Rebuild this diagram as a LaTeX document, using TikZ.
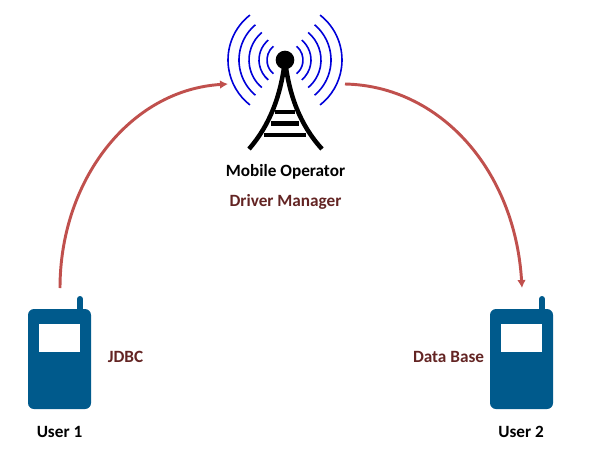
\documentclass[tikz,border=0pt]{standalone}
\usepackage{fontspec}
\setmainfont{Carlito}
\usetikzlibrary{arrows.meta}
\definecolor{PhoneBlue}{HTML}{005A8C}
\definecolor{ArrowRed}{HTML}{C0504D}
\definecolor{LabelRed}{HTML}{632423}
\tikzset{
    PH/.style ={rectangle,rounded corners=4.5pt,minimum width=47.25pt,minimum height=75pt,inner sep=0pt,fill=PhoneBlue},
    SC/.style ={rectangle,minimum width=30.75pt,minimum height=21pt,inner sep=0pt,fill=white},
    AN/.style ={PhoneBlue,line width=4.5pt,line cap=round},
    WA/.style ={blue!85!black,line width=1.2pt},
    TO/.style ={black,line width=3.4pt},
    AR/.style ={ArrowRed,line width=2.2pt,-{Latex[length=6pt,width=6.5pt]}},
    TB/.style ={font=\bfseries\fontsize{12.9pt}{15pt}\selectfont,inner sep=0pt},
    TR/.style ={TB,text=LabelRed}}

\begin{document}
\begin{tikzpicture}[x=0.75pt,y=0.75pt]
        \useasboundingbox (0,0) rectangle (592,-461);
        % tower
        \node[circle,fill=black,minimum size=14pt,inner sep=0pt] (top) at(285,-60){};
        \coordinate (foot1) at(249,-149);
        \coordinate (foot2) at(322,-149);
        \draw[TO] (top.center) .. controls (281,-95) and (270,-125) .. (foot1);
        \draw[TO] (top.center) .. controls (289,-95) and (300,-125) .. (foot2);
        \draw[TO] (275,-112) -- (295,-112);
        \draw[TO] (271,-123.5) -- (299,-123.5);
        \draw[TO] (264,-135) -- (306,-135);
        \foreach \r/\a in {18/50,26/50,36/50,46/50,57/52}{
            \draw[WA] (top.center) ++(180-\a:\r) arc (180-\a:180+\a:\r);
            \draw[WA] (top.center) ++(\a:\r) arc (\a:-\a:\r);
        }
        % phones
        \draw[AN] (80,-299) -- (80,-312);
        \draw[AN] (542,-299) -- (542,-312);
        \node[PH] (P1) at(59.5,-359){};
        \node[PH] (P2) at(521.5,-359){};
        \node[SC] (S1) at(59.5,-338){};
        \node[SC] (S2) at(521.5,-338){};
        % labels
        \node[TB] (T0) at(285.5,-172){Mobile Operator};
        \node[TR] (T1) at(285.5,-201.5){Driver Manager};
        \node[TR] (T2) at(125.5,-356.5){JDBC};
        \node[TR] (T3) at(448.5,-356.5){Data Base};
        \node[TB] (U1) at(59.5,-432){User 1};
        \node[TB] (U2) at(521,-432){User 2};
        % arrows
        \coordinate (A1) at(60,-288);
        \coordinate (A2) at(228,-84);
        \coordinate (A3) at(345,-84);
        \coordinate (A4) at(522,-288);
        \draw[AR] (A1) .. controls (60,-180) and (130,-90) .. (A2);
        \draw[AR] (A3) .. controls (440,-86) and (515,-170) .. (A4);
    \end{tikzpicture}
\end{document}
